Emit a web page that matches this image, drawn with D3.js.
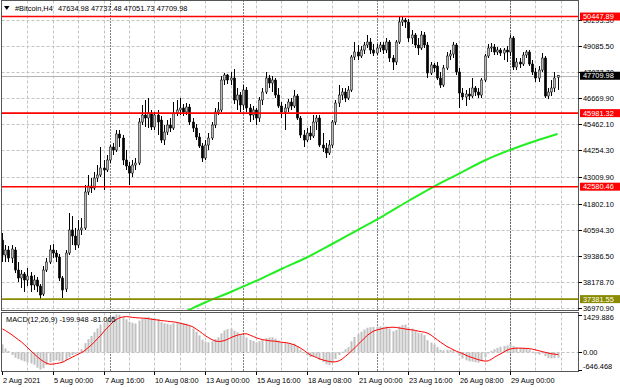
<!DOCTYPE html>
<html>
<head>
<meta charset="utf-8">
<script src="https://cdn.jsdelivr.net/npm/d3@7"></script>
<style>
html, body { margin: 0; padding: 0; background: #fff; }
svg { display: block; font-family: "Liberation Sans", Arial, sans-serif; }
</style>
</head>
<body>
<svg id="chart" width="620" height="388"></svg>
<script>
// H4 bars, first visible bar
const firstBar = "2021-08-02T08:00:00Z";

// open, high, low, close
const candles = [
[40114,40438,39097,39421],[39421,39883,39097,39652],[39652,39837,39097,39282],[39282,39883,39051,39698],
[39652,39791,38589,38727],[38727,39097,38172,38357],[38357,38727,37895,38542],[38542,38635,37710,38265],
[38265,38820,37987,38450],[38450,38635,37710,38034],[38034,38496,37802,38265],[38265,38404,37710,37987],
[37987,38080,37387,37571],[37617,38912,37525,38727],[38727,39282,38635,39097],[39097,39883,39005,39652],
[39652,39927,39282,39513],[39513,39652,39097,39328],[39328,39467,38219,38357],[38357,38450,37433,37802],
[37849,39652,37710,39513],[39513,41363,39421,40577],[40577,41224,39883,40300],[40300,40669,39652,39883],
[39883,41039,39744,40577],[40577,41132,40346,40669],[40669,42658,40577,42334],[42334,43120,42195,42611],
[42611,42981,42288,42519],[42519,43259,42426,42981],[42981,43582,42796,43120],[43120,44415,43027,43444],
[43444,43814,42426,43351],[43351,44045,43259,43814],[43814,44507,43675,44415],[44415,44600,44045,44276],
[44276,45201,44183,45016],[45016,45201,44415,44831],[44831,44970,43582,43814],[43814,44276,43351,43536],
[43536,43721,42658,43212],[43212,43814,43027,43582],[43582,43906,43351,43675],[43675,45756,43582,45571],
[45571,46357,45432,45894],[45894,46588,45340,45756],[45756,46680,45293,45987],[45987,46126,45201,45340],
[45340,46033,45201,45894],[45894,46126,44970,45571],[45663,45848,44600,44738],[44738,45432,44507,45108],
[45108,45663,44970,45432],[45432,45756,45108,45293],[45293,46496,45201,45987],[45987,46588,45848,46126],
[46126,46680,45894,46218],[46218,46403,45848,46033],[46033,46449,45894,46264],[46264,46403,45432,45571],
[45571,45756,45108,45293],[45293,45478,44738,44877],[44877,45062,44368,44461],[44461,44600,43721,43906],
[43906,44738,43814,44507],[44507,45062,44276,44831],[44831,45571,44738,45432],[45432,46218,45293,46033],
[46033,46496,45894,46126],[46126,47698,46033,47513],[47513,47836,47282,47744],[47744,47790,47328,47513],
[47513,47883,47282,47605],[47605,48021,46403,46588],[46588,47143,46126,46819],[46819,46958,46033,46357],
[46357,47282,46126,47050],[47050,47189,46033,46218],[46218,46403,45571,45894],[45894,46311,45663,46126],
[46126,46218,45432,45756],[45756,46727,45571,46588],[46588,47143,46357,46958],[46958,47883,46865,47605],
[47605,47744,47143,47374],[47374,47698,46958,47513],[47513,47605,46680,46819],[46819,47143,46218,46311],
[46311,46496,45756,46033],[46033,46403,45201,46218],[46218,46634,46033,46496],[46496,46680,46126,46311],
[46311,47050,46218,46773],[46773,46865,45663,45756],[45756,45848,44831,44970],[44970,45201,44415,44738],
[44738,45293,44646,45062],[45062,45386,44738,44923],[44923,45894,44831,45571],[45571,45894,45201,45756],
[45756,45894,44415,44507],[44507,45062,44183,44368],[44368,44600,43906,44137],[44137,44738,44045,44507],
[44507,45663,44368,45571],[45571,46588,45432,46449],[46449,47282,46264,46819],[46819,47143,46588,46958],
[46958,47143,46496,46680],[46680,47235,46588,47050],[47050,48669,46958,48576],[48576,49270,48438,48808],
[48808,49131,48438,48623],[48623,49085,48530,48900],[48900,49270,48715,49131],[49131,49594,48992,49270],
[49270,49455,48715,48900],[48900,49177,48623,48761],[48761,49177,48669,48992],[48992,49270,48808,49131],
[49131,49270,48715,48900],[48900,49455,48761,49270],[49270,49362,48345,48530],[48530,48669,47975,48345],
[48345,49362,48206,49270],[49270,50426,49177,50195],[50195,50426,50010,50287],[50287,50380,49917,50195],
[50195,50333,49270,49455],[49455,49825,49177,49594],[49594,49686,48992,49131],[49131,49455,48669,48992],
[48992,49779,48900,49594],[49594,49732,48992,49131],[49131,49270,47605,47836],[47836,48345,47744,48206],
[48206,48299,47883,48068],[48160,48345,47513,47605],[47605,47883,47143,47282],[47282,48206,47189,48068],
[48068,48808,47975,48623],[48623,48900,48438,48715],[48715,49270,48530,49131],[49131,49224,47744,47883],
[47883,48068,46218,46912],[46912,47143,46588,46727],[46727,47050,46311,46865],[46865,47143,46588,46773],
[46773,47605,46680,47143],[47143,47235,46773,46958],[46958,47143,46680,46819],[46819,47605,46680,47513],
[47513,48715,47420,48623],[48623,49177,48530,48992],[48992,49224,48808,49039],[49039,49177,48669,48808],
[48808,49039,48669,48900],[48900,48992,48623,48761],[48761,48992,48438,48900],[48900,49085,48345,48808],
[48808,49594,48623,49455],[49455,49547,47975,48114],[48114,48530,47975,48345],[48345,48530,48068,48253],
[48253,48808,48160,48669],[48669,48900,48530,48808],[48808,48900,48160,48253],[48253,48438,47744,47883],
[47883,48068,47420,47605],[47605,48160,47420,47975],[47975,48761,47883,48530],[48530,48623,46680,46773],
[46773,47143,46634,46958],[46958,47513,46773,47143],[47143,47883,46958,47605],[47634.98,47737.48,47051.73,47709.98]
];

// 200 period moving average (bar index, value)
const maBars = [52, 56, 64, 72, 80, 88, 96, 104, 112, 120, 128, 136, 144, 152, 160, 168, 175];
const maValues = [36440, 36693, 37224, 37710, 38219, 38774, 39305, 39930, 40577, 41224, 41918, 42588, 43189, 43790, 44276, 44692, 45016];

// MACD(12,26,9) main (histogram) and signal, one per bar
const macdMain = [
300,150,50,-100,-200,-250,-300,-340,-380,-420,
-470,-580,-646.468,-600,-470,-380,-330,-300,-320,-360,
-290,-170,-100,-60,20,120,350,500,620,760,
900,1050,1130,1220,1320,1370,1429.886,1420,1330,1250,
1160,1120,1090,1200,1280,1320,1340,1300,1290,1260,
1150,1100,1080,1050,1100,1120,1130,1110,1090,1000,
900,780,640,480,410,380,420,500,570,720,
830,880,900,820,760,680,650,560,470,430,
380,420,470,540,560,570,520,450,380,350,
340,320,330,240,100,-30,-110,-170,-160,-170,
-280,-370,-450,-480,-400,-250,-100,30,120,200,
420,580,690,780,860,930,950,960,970,980,
970,980,900,800,850,980,1030,1050,950,900,
820,740,720,650,460,370,300,200,100,80,
100,90,110,20,-130,-230,-300,-340,-350,-370,
-390,-340,-180,-40,60,120,170,210,240,260,
330,240,190,160,170,160,110,30,-50,-80,
-40,-140,-210,-230,-220,-199.948
];
const macdSignal = [
880,820,740,660,570,480,390,280,170,50,
-60,-170,-270,-350,-420,-450,-440,-420,-400,-370,
-300,-240,-180,-120,-60,0,80,180,280,400,
530,650,800,920,1050,1170,1250,1310,1340,1350,
1340,1320,1310,1300,1295,1285,1270,1250,1235,1220,
1200,1190,1175,1160,1150,1130,1100,1070,1040,1010,
960,880,800,710,620,550,480,430,410,420,
450,500,560,610,650,680,700,700,650,600,
550,510,480,460,440,430,420,400,380,370,
350,320,280,220,150,70,-20,-100,-150,-200,
-250,-290,-320,-345,-360,-355,-320,-250,-150,-50,
60,180,300,420,540,650,740,810,850,880,
910,930,945,950,940,920,900,880,860,850,
830,800,780,760,720,650,560,470,380,300,
220,160,100,40,0,-50,-110,-160,-200,-240,
-280,-310,-330,-320,-260,-180,-110,-50,20,90,
130,150,160,160,155,150,140,120,90,60,
30,0,-30,-55,-70,-81.065
];

const priceTicks = [50293.30, 49085.50, 47877.70, 46669.90, 45462.10, 44254.30, 43009.90, 41802.10, 40594.30, 39386.50, 38178.70, 36970.90];
const macdTicks = [1429.886, 0, -646.468];
const levelValues = [50447.89, 45981.32, 42580.46, 37381.55];
const levelKinds = ["res", "res", "res", "sup"];
const bidPrice = 47709.98;

const timeTicks = [
  ["2021-08-02T08:00:00Z", "2 Aug 2021"],
  ["2021-08-05T00:00:00Z", "5 Aug 00:00"],
  ["2021-08-07T16:00:00Z", "7 Aug 16:00"],
  ["2021-08-10T08:00:00Z", "10 Aug 08:00"],
  ["2021-08-13T00:00:00Z", "13 Aug 00:00"],
  ["2021-08-15T16:00:00Z", "15 Aug 16:00"],
  ["2021-08-18T08:00:00Z", "18 Aug 08:00"],
  ["2021-08-21T00:00:00Z", "21 Aug 00:00"],
  ["2021-08-23T16:00:00Z", "23 Aug 16:00"],
  ["2021-08-26T08:00:00Z", "26 Aug 08:00"],
  ["2021-08-29T00:00:00Z", "29 Aug 00:00"]
];
const weekStarts = ["2021-08-08T00:00:00Z", "2021-08-15T00:00:00Z", "2021-08-22T00:00:00Z", "2021-08-29T00:00:00Z"];

// layout
const LEFT = 1.5, RIGHT = 578.5;
const MAIN_TOP = 0.5, MAIN_BOTTOM = 310.5;
const MACD_TOP = 312.5, MACD_BOTTOM = 371.5;
const BAR_STEP = 3.175;
const FONT = 7.4;
const LEVEL_COLORS = { res: "#ff0000", sup: "#8a8a00" };

const HOUR = 3600 * 1000;
const t0 = new Date(firstBar);
const times = candles.map((d, i) => new Date(+t0 + i * 4 * HOUR));

const svg = d3.select("#chart");

const x = d3.scaleUtc()
    .domain([times[0], times[times.length - 1]])
    .range([2, 2 + (times.length - 1) * BAR_STEP]);

const y = d3.scaleLinear()
    .domain([36970.9, 49085.5])
    .range([308, 46]);

const yM = d3.scaleLinear()
    .domain([-646.468, 1429.886])
    .range([369.5, 314.5]);

// clip regions
const defs = svg.append("defs");
defs.append("clipPath").attr("id", "clipMain").append("rect")
    .attr("x", LEFT).attr("y", MAIN_TOP).attr("width", RIGHT - LEFT).attr("height", MAIN_BOTTOM - MAIN_TOP);
defs.append("clipPath").attr("id", "clipMacd").append("rect")
    .attr("x", LEFT).attr("y", MACD_TOP).attr("width", RIGHT - LEFT).attr("height", MACD_BOTTOM - MACD_TOP);

// grid: horizontal
const grid = svg.append("g").attr("stroke", "#c4c4c4").attr("stroke-dasharray", "3,2").attr("stroke-width", 1);
priceTicks.forEach(v => {
    const yy = Math.round(y(v)) + 0.5;
    grid.append("line").attr("x1", LEFT).attr("x2", RIGHT).attr("y1", yy).attr("y2", yy);
});
grid.append("line").attr("x1", LEFT).attr("x2", RIGHT)
    .attr("y1", Math.round(yM(0)) + 0.5).attr("y2", Math.round(yM(0)) + 0.5);

// grid: vertical every 8 bars
for (let n = 1; ; n++) {
    const xx = Math.round(x(new Date(+t0 + n * 32 * HOUR))) + 0.5;
    if (xx >= RIGHT) break;
    grid.append("line").attr("x1", xx).attr("x2", xx).attr("y1", MAIN_TOP).attr("y2", MAIN_BOTTOM);
    grid.append("line").attr("x1", xx).attr("x2", xx).attr("y1", MACD_TOP).attr("y2", MACD_BOTTOM);
}

// weekly separators
weekStarts.forEach(s => {
    const xx = Math.round(x(new Date(s))) + 0.5;
    svg.append("line").attr("x1", xx).attr("x2", xx).attr("y1", MAIN_TOP).attr("y2", MACD_BOTTOM)
        .attr("stroke", "#000").attr("stroke-dasharray", "1,2");
});

// bid line
svg.append("line").attr("x1", LEFT).attr("x2", RIGHT)
    .attr("y1", Math.round(y(bidPrice)) + 0.5).attr("y2", Math.round(y(bidPrice)) + 0.5)
    .attr("stroke", "#b4b4b4");

// moving average
const mainG = svg.append("g").attr("clip-path", "url(#clipMain)");
mainG.append("path")
    .datum(maBars.map((b, i) => [b, maValues[i]]))
    .attr("fill", "none")
    .attr("stroke", "#22ee22")
    .attr("stroke-width", 2)
    .attr("d", d3.line()
        .x(d => x(times[d[0]]))
        .y(d => y(d[1]))
        .curve(d3.curveMonotoneX));

// candles
const candleG = mainG.append("g");
candles.forEach((d, i) => {
    const [o, h, l, c] = d;
    const cx = x(times[i]);
    const wx = Math.round(cx) + 0.5;
    candleG.append("line")
        .attr("x1", wx).attr("x2", wx).attr("y1", y(h)).attr("y2", y(l))
        .attr("stroke", "#000");
    const top = Math.min(y(o), y(c));
    const hgt = Math.max(Math.abs(y(o) - y(c)), 0.8);
    candleG.append("rect")
        .attr("x", wx - 1.2).attr("y", top)
        .attr("width", 2.4).attr("height", hgt)
        .attr("fill", c >= o ? "#b8b8b8" : "#000")
        .attr("stroke", "#000").attr("stroke-width", 0.5);
});

// horizontal levels
levelValues.forEach((v, i) => {
    svg.append("line").attr("x1", LEFT).attr("x2", RIGHT).attr("y1", y(v)).attr("y2", y(v))
        .attr("stroke", LEVEL_COLORS[levelKinds[i]]).attr("stroke-width", 1.6);
});

// MACD
const macdG = svg.append("g").attr("clip-path", "url(#clipMacd)");
macdMain.forEach((v, i) => {
    const cx = x(times[i]);
    macdG.append("rect")
        .attr("x", Math.round(cx) - 0.5).attr("width", 2)
        .attr("y", Math.min(yM(v), yM(0))).attr("height", Math.abs(yM(v) - yM(0)))
        .attr("fill", "#c0c0c0");
});
macdG.append("path")
    .datum(macdSignal)
    .attr("fill", "none")
    .attr("stroke", "#ff0000")
    .attr("stroke-width", 1)
    .attr("d", d3.line().x((d, i) => x(times[i]) + 0.5).y(d => yM(d)));

svg.append("text").attr("x", 6).attr("y", 321.5).attr("font-size", FONT)
    .text(`MACD(12,26,9) ${macdMain[macdMain.length - 1]} ${macdSignal[macdSignal.length - 1]}`);

// frames
svg.append("rect").attr("x", LEFT).attr("y", MAIN_TOP).attr("width", RIGHT - LEFT).attr("height", MAIN_BOTTOM - MAIN_TOP)
    .attr("fill", "none").attr("stroke", "#555");
svg.append("rect").attr("x", LEFT).attr("y", MACD_TOP).attr("width", RIGHT - LEFT).attr("height", MACD_BOTTOM - MACD_TOP)
    .attr("fill", "none").attr("stroke", "#555");

// header
svg.append("path").attr("d", "M4,6 L9.5,6 L6.75,10 Z").attr("fill", "#000");
svg.append("text").attr("x", 15).attr("y", 10.8).attr("font-size", FONT).text("#Bitcoin,H4");
svg.append("text").attr("x", 58).attr("y", 10.8).attr("font-size", FONT)
    .text(candles[candles.length - 1].map(v => v.toFixed(2)).join(" "));

// price axis
const axisG = svg.append("g").attr("font-size", FONT);
priceTicks.forEach(v => {
    const yy = Math.round(y(v)) + 0.5;
    axisG.append("line").attr("x1", RIGHT).attr("x2", RIGHT + 3.5).attr("y1", yy).attr("y2", yy).attr("stroke", "#000");
    axisG.append("text").attr("x", 583).attr("y", yy + 2.6).text(v.toFixed(2));
});

// price tags for levels and bid
function priceTag(v, bg, fg) {
    const yy = y(v);
    axisG.append("rect").attr("x", 580).attr("y", yy - 4).attr("width", 40).attr("height", 8).attr("fill", bg);
    axisG.append("text").attr("x", 583).attr("y", yy + 2.6).attr("fill", fg).text(v.toFixed(2));
}
levelValues.forEach((v, i) => priceTag(v, LEVEL_COLORS[levelKinds[i]], levelKinds[i] === "sup" ? "#fffff0" : "#fff"));
priceTag(bidPrice, "#000", "#fff");

// MACD axis
macdTicks.forEach(v => {
    const yy = Math.round(yM(v)) + 0.5;
    const ty = Math.max(317, Math.min(366, yy));
    axisG.append("line").attr("x1", RIGHT).attr("x2", RIGHT + 3.5).attr("y1", yy).attr("y2", yy).attr("stroke", "#000");
    axisG.append("text").attr("x", 583).attr("y", ty + 2.6).text(v === 0 ? "0.00" : v.toFixed(3));
});

// time axis
timeTicks.forEach(([s, label]) => {
    const xx = Math.round(x(new Date(s))) + 0.5;
    axisG.append("line").attr("x1", xx).attr("x2", xx).attr("y1", MACD_BOTTOM).attr("y2", MACD_BOTTOM + 3.5).attr("stroke", "#000");
    axisG.append("text").attr("x", xx + 0.5).attr("y", 382.6).text(label);
});
</script>
</body>
</html>
